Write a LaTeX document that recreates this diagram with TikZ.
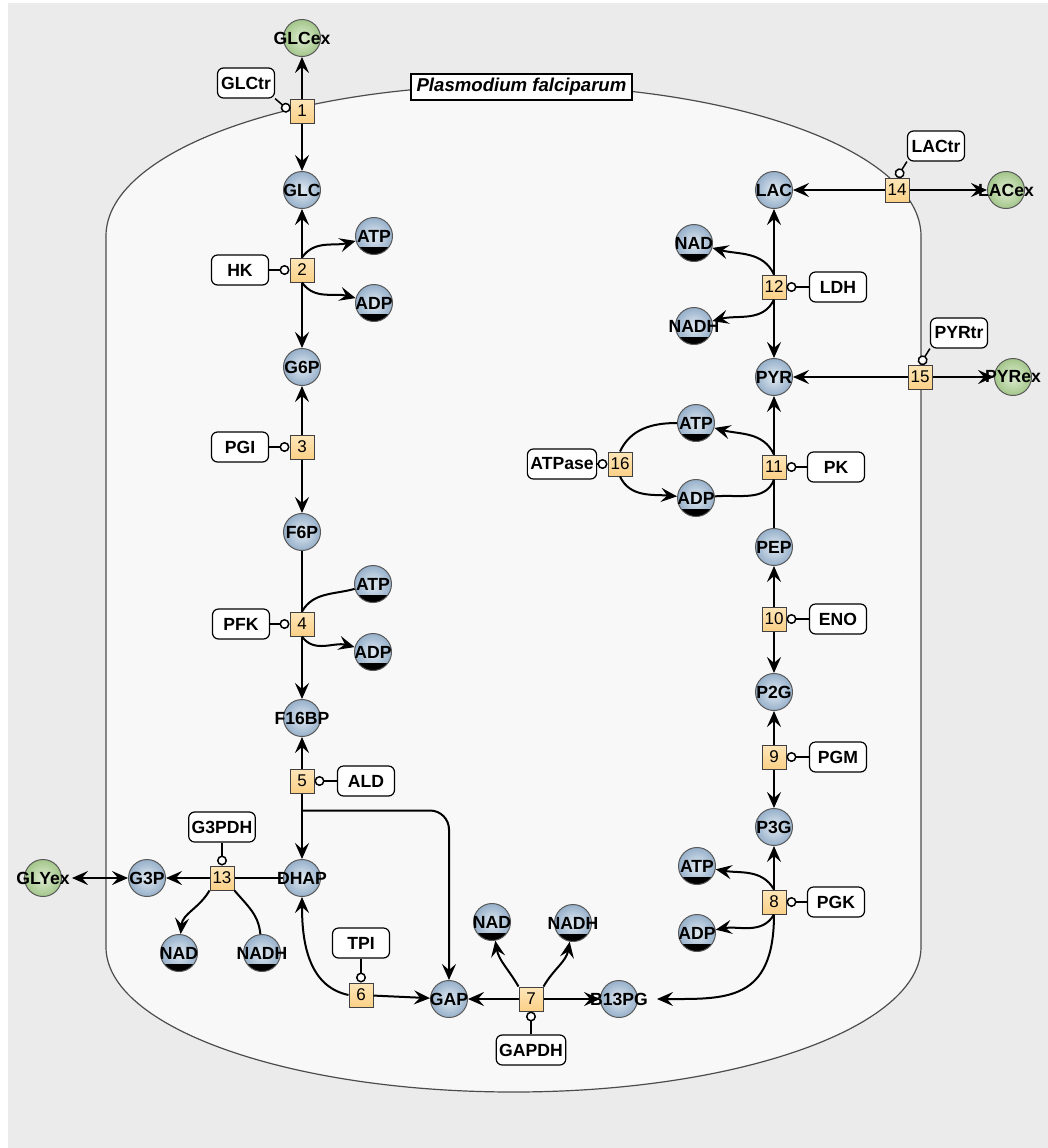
\documentclass[tikz,border=0pt]{standalone}
\usepackage{fontspec}
\setmainfont{Liberation Sans}
\usetikzlibrary{arrows.meta}
\definecolor{bggray}{RGB}{235,235,235}
\definecolor{cellfill}{RGB}{248,248,248}
\definecolor{metout}{RGB}{150,176,202}
\definecolor{metin}{RGB}{226,234,242}
\definecolor{extout}{RGB}{163,198,138}
\definecolor{extin}{RGB}{222,236,210}
\definecolor{rxtop}{RGB}{254,230,185}
\definecolor{rxbot}{RGB}{251,208,135}
\tikzset{
  met/.style={circle,draw=black!65,line width=0.5pt,minimum size=18.5pt,inner sep=0pt,inner color=metin,outer color=metout,
    label={[font=\bfseries\fontsize{8.8}{10}\selectfont,inner sep=0pt]center:#1}},
  cof/.style={met=#1,path picture={\fill[black] (path picture bounding box.south west) rectangle ([yshift=-5.5pt]path picture bounding box.east);}},
  ext/.style={met=#1,inner color=extin,outer color=extout},
  rbox/.style={draw=black!75,line width=0.5pt,top color=rxtop,bottom color=rxbot,minimum size=12pt,inner sep=0.5pt,font=\fontsize{8.5}{10}\selectfont},
  enz/.style={draw,line width=0.6pt,fill=white,rounded corners=3pt,minimum width=28.5pt,minimum height=15pt,inner xsep=1.5pt,font=\bfseries\fontsize{8.8}{10}\selectfont},
  rxn/.style={line width=1pt},
  modline/.style={line width=0.75pt,-{Circle[length=5pt,fill=white]}},
  >={Stealth[length=8pt,width=7pt,inset=3pt]}
}
\begin{document}
\begin{tikzpicture}[x=0.5pt,y=-0.5pt]
\useasboundingbox (0,0) rectangle (1048,1148);
% background and cell
\fill[bggray] (8,3) rectangle (1048,1148);
\filldraw[fill=cellfill,draw=black!70,line width=0.6pt] (106,236) arc[start angle=180,end angle=0,x radius=203.75pt,y radius=75.5pt]
  -- (921,947) arc[start angle=0,end angle=-180,x radius=203.75pt,y radius=72.5pt] -- cycle;
\node[draw,line width=0.6pt,fill=white,minimum width=110.5pt,minimum height=13pt,inner sep=1pt,font=\bfseries\itshape\fontsize{9.3}{10}\selectfont] (org) at (521.5,87) {Plasmodium falciparum};
% metabolites, upper half
\node[ext=GLCex] (glcex) at (302,38) {};
\node[met=GLC] (glc) at (302,190) {};
\node[cof=ATP] (atpA) at (374,236) {};
\node[cof=ADP] (adpA) at (374,303) {};
\node[met=G6P] (g6p) at (302,367) {};
\node[met=F6P] (f6p) at (302,532) {};
\node[cof=ATP] (atpB) at (373,584) {};
\node[cof=ADP] (adpB) at (373,652) {};
\node[met=F16BP] (f16bp) at (302,718) {};
\node[met=DHAP] (dhap) at (302,878) {};
\node[met=G3P] (g3p) at (147,878) {};
\node[ext=GLYex] (glyex) at (43,878) {};
\node[cof=NAD] (nadA) at (179,953) {};
\node[cof=NADH] (nadhA) at (262,953) {};
\node[met=GAP] (gap) at (449,999) {};
\node[cof=NAD] (nadB) at (492,922) {};
\node[cof=NADH] (nadhB) at (573,923) {};
\node[met=B13PG] (bpg) at (619,999) {};
% metabolites, right column
\node[cof=ATP] (atpC) at (697,866) {};
\node[cof=ADP] (adpC) at (697,933) {};
\node[met=P3G] (p3g) at (774,827) {};
\node[met=P2G] (p2g) at (774,692) {};
\node[met=PEP] (pep) at (774,547) {};
\node[cof=ATP] (atpD) at (696,423) {};
\node[cof=ADP] (adpD) at (696,498) {};
\node[met=PYR] (pyr) at (774,377) {};
\node[ext=PYRex] (pyrex) at (1013,377) {};
\node[cof=NAD] (nadC) at (694,243) {};
\node[cof=NADH] (nadhC) at (694,326) {};
\node[met=LAC] (lac) at (774,190) {};
\node[ext=LACex] (lacex) at (1006,190) {};
% reactions
\foreach \n/\x/\y in {1/302/111,2/302/270,3/302/447,4/302/624,5/302/781,6/361/995,7/531/999,8/774/902,9/774/757,10/774/619,
  11/774/467,12/774/287,13/222/878,14/897/190,15/920/377,16/620/464}
  \node[rbox] (r\n) at (\x,\y) {\n};
% enzymes
\node[enz] (glctr) at (246,83) {GLCtr};
\node[enz] (hk) at (240,270) {HK};
\node[enz] (pgi) at (240,447) {PGI};
\node[enz] (pfk) at (241,624) {PFK};
\node[enz] (ald) at (366,781) {ALD};
\node[enz] (g3pdh) at (222,827) {G3PDH};
\node[enz] (tpi) at (361,943) {TPI};
\node[enz] (gapdh) at (531,1050) {GAPDH};
\node[enz] (pgk) at (836,902) {PGK};
\node[enz] (pgm) at (838,757) {PGM};
\node[enz] (eno) at (838,619) {ENO};
\node[enz] (pk) at (836,467) {PK};
\node[enz] (atpase) at (562,464) {ATPase};
\node[enz] (ldh) at (838,287) {LDH};
\node[enz] (lactr) at (936,146) {LACtr};
\node[enz] (pyrtr) at (959,333) {PYRtr};
% straight connectors
\foreach \a/\b in {r1/glcex,r1/glc,r2/glc,r2/g6p,r3/g6p,r3/f6p,r4/f16bp,r5/f16bp,r5/dhap,r13/g3p,r6/gap,r7/gap,r7/bpg,r8/p3g,
  r9/p3g,r9/p2g,r10/p2g,r10/pep,r11/pyr,r12/lac,r12/pyr,r14/lac,r14/lacex,r15/pyr,r15/pyrex}
  \draw[rxn,->] (\a) -- (\b);
\foreach \a/\b in {f6p/r4,dhap/r13,pep/r11} \draw[rxn] (\a) -- (\b);
\draw[rxn,<->,shorten <=5pt] (glyex) -- (g3p);
% side substrates and products
\draw[rxn,->] (r2.north) to[out=55,in=195] (atpA);
\draw[rxn,->] (r2.south) to[out=-55,in=165] (adpA);
\draw[rxn] (atpB) to[out=195,in=60] (r4.north);
\draw[rxn,->] (r4.south) to[out=-55,in=165] (adpB);
\draw[rxn,->,rounded corners=9.5pt] ([yshift=-8.5pt]r5.south) -| (gap);
\draw[rxn,->] (r13.south west) to[out=-120,in=85] (nadA);
\draw[rxn] (nadhA) to[out=95,in=-50] (r13.south east);
\draw[rxn,->] (r6.west) to[out=168,in=-90] (dhap);
\draw[rxn,->] (r7.north west) to[out=120,in=-80] (nadB);
\draw[rxn,->] (r7.north east) to[out=60,in=-100] (nadhB);
\draw[rxn,->] (r8.north) to[out=120,in=-10] (atpC);
\draw[rxn,->] (r8.south) to[out=-120,in=10] (adpC);
\draw[rxn,->,shorten >=9.5pt] (r8.south) to[out=-90,in=0,looseness=1.4] (bpg);
\draw[rxn,->] (r11.north) to[out=115,in=-15] (atpD);
\draw[rxn] (adpD) to[out=5,in=-110] (r11.south);
\draw[rxn] (atpD) to[out=180,in=65] (r16.north);
\draw[rxn,->] (r16.south) to[out=-65,in=175] (adpD);
\draw[rxn,->] (r12.north) to[out=115,in=-15] (nadC);
\draw[rxn,->] (r12.south) to[out=-115,in=15] (nadhC);
% modifiers
\foreach \e/\r in {hk/r2,pgi/r3,pfk/r4,ald/r5,g3pdh/r13,tpi/r6,gapdh/r7,pgk/r8,pgm/r9,eno/r10,pk/r11,ldh/r12,atpase/r16}
  \draw[modline] (\e) -- (\r);
\draw[modline] (glctr.south east) -- (r1.west);
\draw[modline] (lactr.south west) -- (r14.north);
\draw[modline] (pyrtr.south west) -- (r15.north);
\end{tikzpicture}
\end{document}
